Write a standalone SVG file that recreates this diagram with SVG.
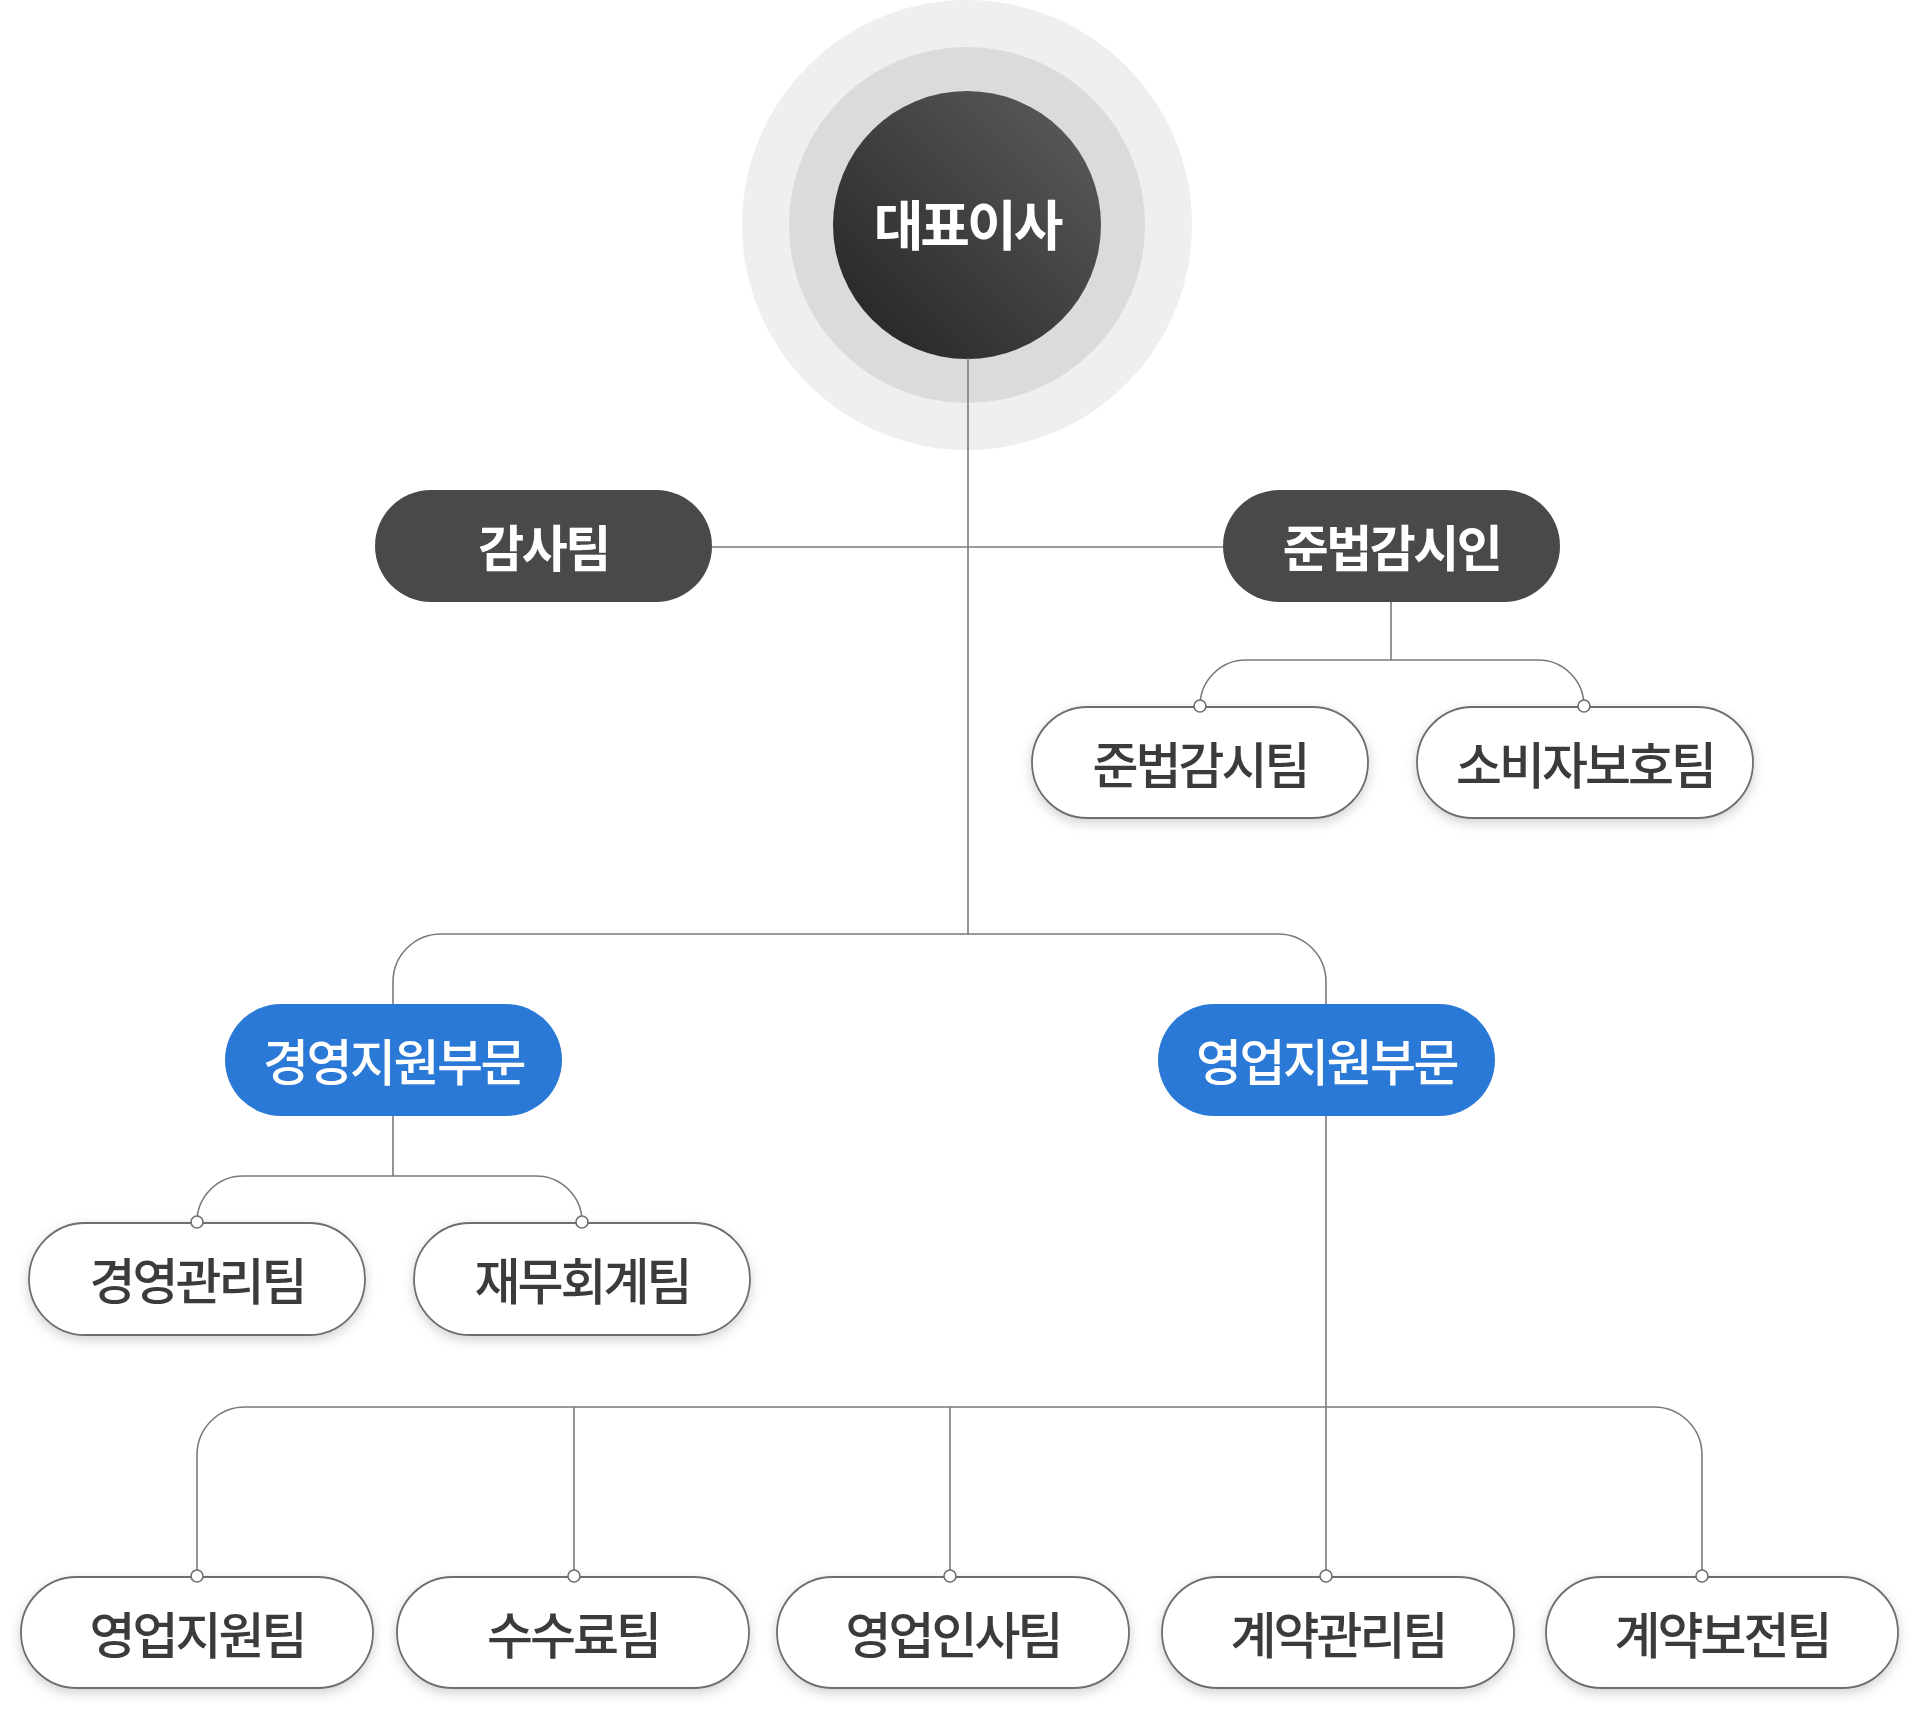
<svg xmlns="http://www.w3.org/2000/svg" width="1920" height="1709" viewBox="0 0 1920 1709">
  <defs>
    <linearGradient id="ceoGrad" x1="0" y1="1" x2="1" y2="0">
      <stop offset="0" stop-color="#222222"/>
      <stop offset="1" stop-color="#5e5e5e"/>
    </linearGradient>
    <filter id="shadow" x="-20%" y="-40%" width="140%" height="190%">
      <feDropShadow dx="0" dy="4" stdDeviation="6" flood-color="#000" flood-opacity="0.18"/>
    </filter>
  </defs>
  <style>
    .t { font-family: "Noto Sans CJK KR", "Noto Sans", sans-serif; text-anchor: middle; dominant-baseline: central; }
    .ceo { font-size: 54px; font-weight: 700; fill: #ffffff; letter-spacing: -3px; }
    .l1 { font-size: 50px; font-weight: 700; fill: #ffffff; letter-spacing: -2.5px; }
    .l1b { font-size: 50px; font-weight: 500; fill: #ffffff; letter-spacing: -2.5px; }
    .l2 { font-size: 50px; font-weight: 500; fill: #3b3b3b; letter-spacing: -3px; }
    .dark { fill: #494949; }
    .blue { fill: #2a79d6; }
    .white { fill: #ffffff; stroke: #6e6e6e; stroke-width: 1.8; filter: url(#shadow); }
    .conn { fill: none; stroke: #7a7a7a; stroke-width: 1.6; }
    .dot { fill: #ffffff; stroke: #6e6e6e; stroke-width: 1.6; }
  </style>
  <rect width="1920" height="1709" fill="#ffffff"/>

  <g id="ceo">
    <circle cx="967" cy="225" r="225" fill="#efefef"/>
    <circle cx="967" cy="225" r="178" fill="#dbdbdb"/>
    <circle cx="967" cy="225" r="134" fill="url(#ceoGrad)"/>
    <text class="t ceo" x="967" y="222">대표이사</text>
  </g>

  <g id="connectors">
    <path class="conn" d="M968,358 V934"/>
    <path class="conn" d="M712,547 H1223"/>
    <path class="conn" d="M1391,602 V660"/>
    <path class="conn" d="M1200,706 A46,46 0 0 1 1246,660 H1538 A46,46 0 0 1 1584,706"/>
    <path class="conn" d="M393,1004 V982 A48,48 0 0 1 441,934 H1278 A48,48 0 0 1 1326,982 V1004"/>
    <path class="conn" d="M393,1116 V1176"/>
    <path class="conn" d="M197,1222 A46,46 0 0 1 243,1176 H536 A46,46 0 0 1 582,1222"/>
    <path class="conn" d="M1326,1116 V1576"/>
    <path class="conn" d="M197,1576 V1455 A48,48 0 0 1 245,1407 H1654 A48,48 0 0 1 1702,1455 V1576"/>
    <path class="conn" d="M574,1407 V1576"/>
    <path class="conn" d="M950,1407 V1576"/>
  </g>

  <g id="audit">
    <rect class="dark" x="375" y="490" width="337" height="112" rx="56"/>
    <text class="t l1" x="543.5" y="545">감사팀</text>
  </g>
  <g id="compliance-officer">
    <rect class="dark" x="1223" y="490" width="337" height="112" rx="56"/>
    <text class="t l1" x="1391.5" y="545">준법감시인</text>
  </g>
  <g id="compliance-team">
    <rect class="white" x="1032" y="707" width="336" height="111" rx="55.5"/>
    <text class="t l2" x="1200" y="762">준법감시팀</text>
  </g>
  <g id="consumer-team">
    <rect class="white" x="1417" y="707" width="336" height="111" rx="55.5"/>
    <text class="t l2" x="1585" y="762">소비자보호팀</text>
  </g>
  <g id="mgmt-division">
    <rect class="blue" x="225" y="1004" width="337" height="112" rx="56"/>
    <text class="t l1b" x="393.5" y="1059">경영지원부문</text>
  </g>
  <g id="sales-division">
    <rect class="blue" x="1158" y="1004" width="337" height="112" rx="56"/>
    <text class="t l1b" x="1326.5" y="1059">영업지원부문</text>
  </g>
  <g id="mgmt-team">
    <rect class="white" x="29" y="1223" width="336" height="112" rx="56"/>
    <text class="t l2" x="197" y="1278">경영관리팀</text>
  </g>
  <g id="finance-team">
    <rect class="white" x="414" y="1223" width="336" height="112" rx="56"/>
    <text class="t l2" x="582" y="1278">재무회계팀</text>
  </g>
  <g id="sales-support-team">
    <rect class="white" x="21" y="1577" width="352" height="111" rx="55.5"/>
    <text class="t l2" x="197" y="1632">영업지원팀</text>
  </g>
  <g id="fee-team">
    <rect class="white" x="397" y="1577" width="352" height="111" rx="55.5"/>
    <text class="t l2" x="573" y="1632">수수료팀</text>
  </g>
  <g id="sales-hr-team">
    <rect class="white" x="777" y="1577" width="352" height="111" rx="55.5"/>
    <text class="t l2" x="953" y="1632">영업인사팀</text>
  </g>
  <g id="contract-mgmt-team">
    <rect class="white" x="1162" y="1577" width="352" height="111" rx="55.5"/>
    <text class="t l2" x="1338" y="1632">계약관리팀</text>
  </g>
  <g id="contract-keep-team">
    <rect class="white" x="1546" y="1577" width="352" height="111" rx="55.5"/>
    <text class="t l2" x="1722" y="1632">계약보전팀</text>
  </g>

  <g id="connector-dots">
    <circle class="dot" cx="1200" cy="706" r="6"/>
    <circle class="dot" cx="1584" cy="706" r="6"/>
    <circle class="dot" cx="197" cy="1222" r="6"/>
    <circle class="dot" cx="582" cy="1222" r="6"/>
    <circle class="dot" cx="197" cy="1576" r="6"/>
    <circle class="dot" cx="574" cy="1576" r="6"/>
    <circle class="dot" cx="950" cy="1576" r="6"/>
    <circle class="dot" cx="1326" cy="1576" r="6"/>
    <circle class="dot" cx="1702" cy="1576" r="6"/>
  </g>
</svg>
